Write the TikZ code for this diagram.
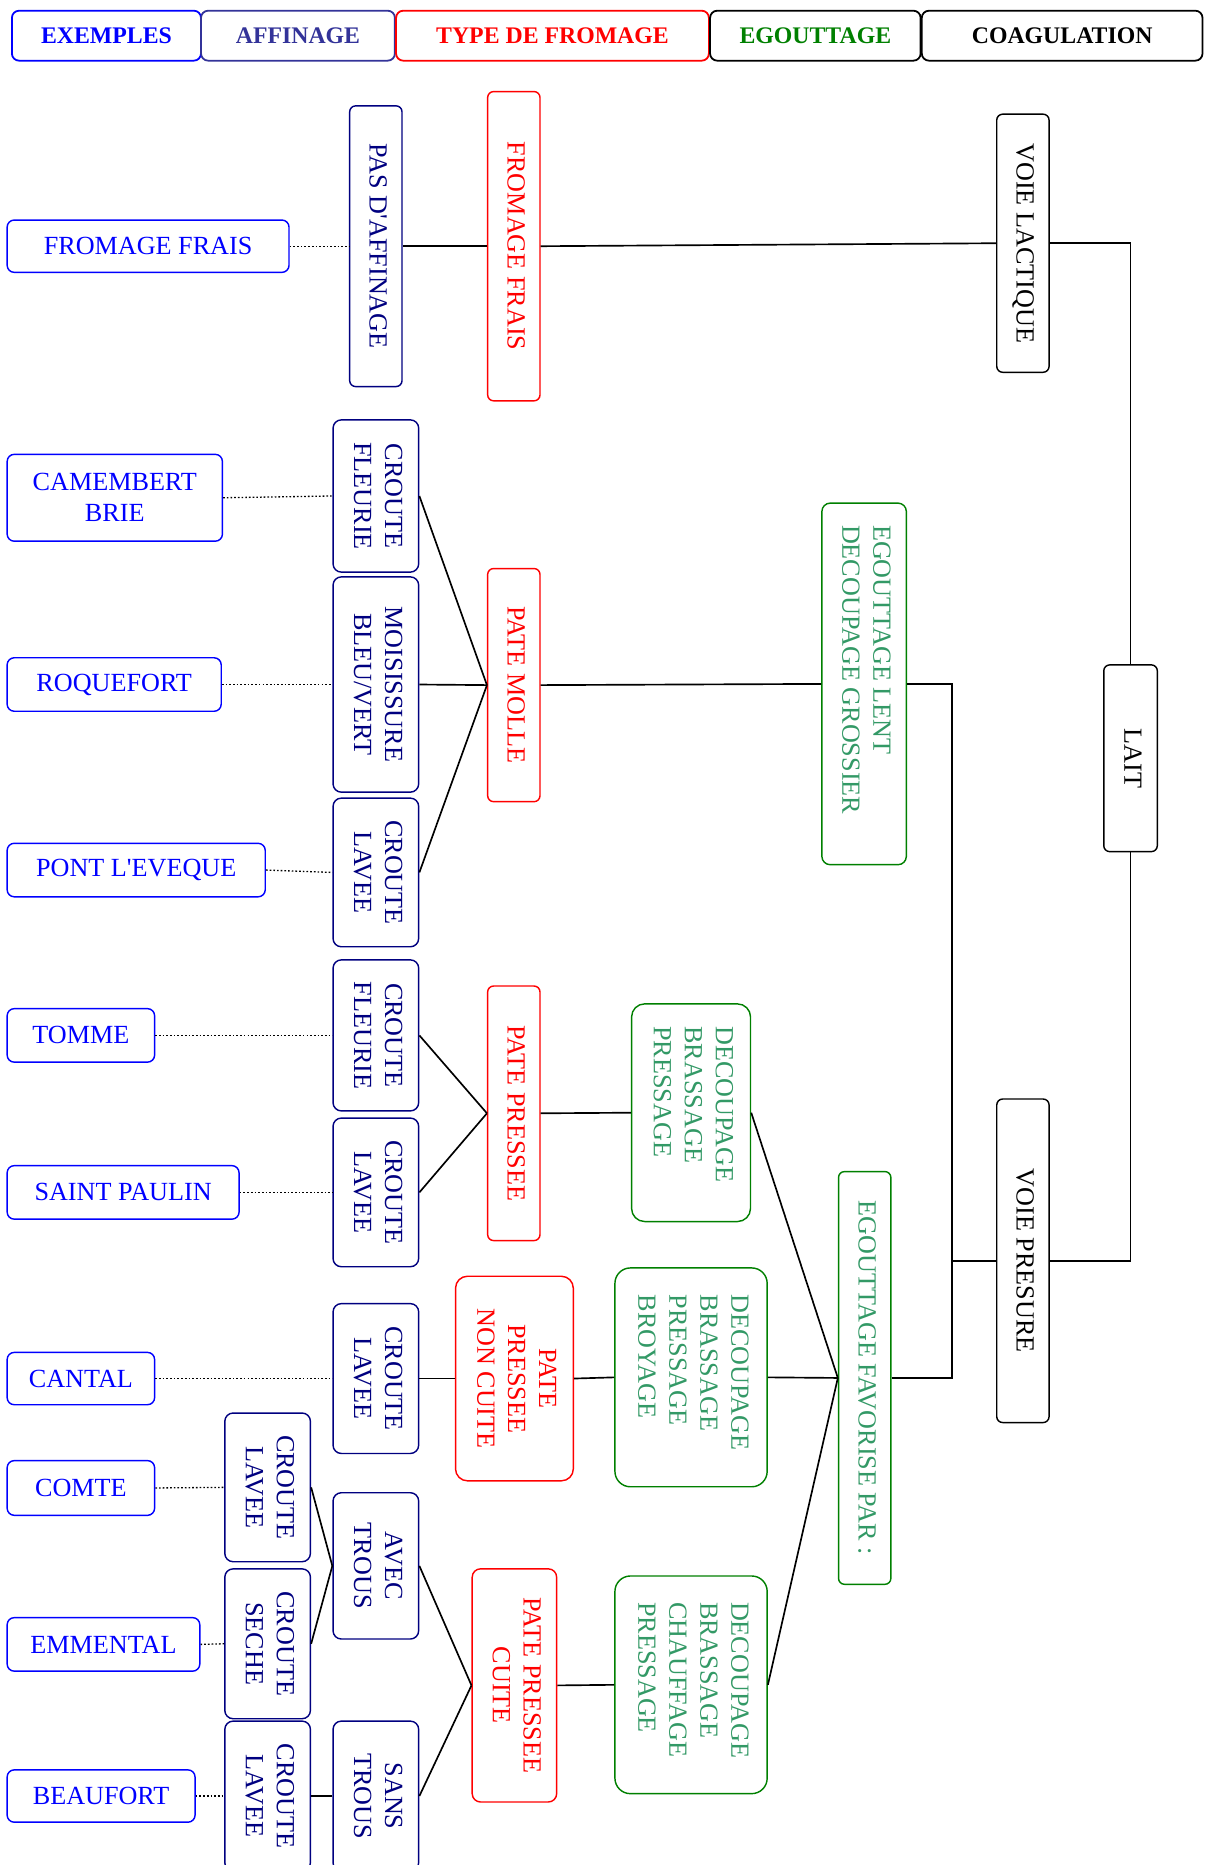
\documentclass[tikz,border=0pt]{standalone}
\usepackage{fontspec}
\setmainfont{Liberation Serif}
\definecolor{exblue}{RGB}{0,0,255}
\definecolor{navy}{RGB}{0,0,128}
\definecolor{hdrnavy}{RGB}{51,51,153}
\definecolor{egborder}{RGB}{0,128,0}
\definecolor{egtext}{RGB}{51,153,102}
\newcommand{\rottext}[1]{\rotatebox{-90}{\begin{tabular}{@{}c@{}}#1\end{tabular}}}
\newcommand{\rotleft}[2]{\rotatebox{-90}{\begin{tabular}{@{}l@{\hspace{#1}}}#2\end{tabular}}}
\tikzset{
  box/.style={draw, rounded corners=5pt, line width=1.2pt, inner sep=0pt, fill=white,
    font=\fontsize{22}{26}\selectfont},
  exbox/.style={box, draw=exblue, text=exblue, rounded corners=6pt, align=center},
  afbox/.style={box, draw=navy, text=navy, rounded corners=7pt},
  tybox/.style={box, draw=red, text=red},
  egbox/.style={box, draw=egborder, text=egtext},
  cobox/.style={box, draw=black, text=black},
  hdr/.style={draw, rounded corners=6pt, line width=1.5pt, minimum height=42pt, inner sep=0pt,
    font=\fontsize{20}{24}\selectfont\bfseries},
  link/.style={line width=1.4pt},
  dots/.style={line width=1.1pt, dash pattern=on 1.4pt off 1.7pt},
}
\begin{document}
\begin{tikzpicture}[x={(1pt,0)}, y={(0,-1pt)}]
\path[use as bounding box, fill=white] (0,0) rectangle (1021,1568);

% headers
\node[hdr, draw=exblue, text=exblue, minimum width=159pt] (hEX) at (89.5,30) {EXEMPLES};
\node[hdr, draw=hdrnavy, text=hdrnavy, minimum width=163pt] (hAF) at (250.5,30) {AFFINAGE};
\node[hdr, draw=red, text=red, minimum width=263pt] (hTY) at (464.5,30) {TYPE DE FROMAGE};
\node[hdr, draw=black, text=egborder, minimum width=177pt] (hEG) at (685.5,30) {EGOUTTAGE};
\node[hdr, draw=black, text=black, minimum width=236pt] (hCO) at (893,30) {COAGULATION};

% examples
\node[exbox, minimum width=237pt, minimum height=44pt] (exFF) at (124.5,207) {FROMAGE FRAIS};
\node[exbox, minimum width=181pt, minimum height=73pt] (exCB) at (96.5,418.5) {CAMEMBERT\\BRIE};
\node[exbox, minimum width=180pt, minimum height=45pt] (exRQ) at (96,575.5) {ROQUEFORT};
\node[exbox, minimum width=217pt, minimum height=45pt] (exPL) at (114.5,731.5) {PONT L\textquotesingle EVEQUE};
\node[exbox, minimum width=124pt, minimum height=45pt] (exTO) at (68,870.5) {TOMME};
\node[exbox, minimum width=195pt, minimum height=45pt] (exSP) at (103.5,1002.5) {SAINT PAULIN};
\node[exbox, minimum width=124pt, minimum height=44pt] (exCA) at (68,1159) {CANTAL};
\node[exbox, minimum width=124pt, minimum height=46pt] (exCO) at (68,1251) {COMTE};
\node[exbox, minimum width=162pt, minimum height=45pt] (exEM) at (87,1382.5) {EMMENTAL};
\node[exbox, minimum width=158pt, minimum height=44pt] (exBE) at (85,1510) {BEAUFORT};

% affinage
\node[afbox, rounded corners=5pt, minimum width=44pt, minimum height=236pt] (afPA) at (316,207) {\rottext{PAS D\textquotesingle AFFINAGE}};
\node[afbox, minimum width=72pt, minimum height=128pt] (afCF1) at (316,417) {\rottext{CROUTE\\FLEURIE}};
\node[afbox, minimum width=72pt, minimum height=181pt] (afMO) at (316,575.5) {\rottext{MOISISSURE\\BLEU/VERT}};
\node[afbox, minimum width=72pt, minimum height=125pt] (afCL1) at (316,733.5) {\rottext{CROUTE\\LAVEE}};
\node[afbox, minimum width=72pt, minimum height=127pt] (afCF2) at (316,870.5) {\rottext{CROUTE\\FLEURIE}};
\node[afbox, minimum width=72pt, minimum height=125pt] (afCL2) at (316,1002.5) {\rottext{CROUTE\\LAVEE}};
\node[afbox, minimum width=72pt, minimum height=126pt] (afCL3) at (316,1159) {\rottext{CROUTE\\LAVEE}};
\node[afbox, minimum width=72pt, minimum height=125pt] (afCL4) at (225,1250.5) {\rottext{CROUTE\\LAVEE}};
\node[afbox, minimum width=72pt, minimum height=123pt] (afAT) at (316,1316.5) {\rottext{AVEC\\TROUS}};
\node[afbox, minimum width=72pt, minimum height=126pt] (afCS) at (225,1382) {\rottext{CROUTE\\SECHE}};
\node[afbox, minimum width=72pt, minimum height=126pt] (afCL5) at (225,1510) {\rottext{CROUTE\\LAVEE}};
\node[afbox, minimum width=72pt, minimum height=126pt] (afST) at (316,1510) {\rottext{SANS\\TROUS}};

% type de fromage
\node[tybox, minimum width=44pt, minimum height=260pt] (tyFF) at (432,207) {\rottext{FROMAGE FRAIS}};
\node[tybox, minimum width=44pt, minimum height=196pt] (tyPM) at (432,576) {\rottext{PATE MOLLE}};
\node[tybox, minimum width=44pt, minimum height=214pt] (tyPP) at (432,936) {\rottext{PATE PRESSEE}};
\node[tybox, rounded corners=10pt, minimum width=99pt, minimum height=172pt] (tyPN) at (432.5,1159) {\rottext{PATE\\PRESSEE\\NON CUITE}};
\node[tybox, rounded corners=7pt, minimum width=71pt, minimum height=196pt] (tyPC) at (432.5,1417) {\rottext{PATE PRESSEE\\CUITE}};

% egouttage
\node[egbox, rounded corners=11pt, minimum width=100pt, minimum height=183pt] (egDBP) at (581,935.5) {\rotleft{14pt}{DECOUPAGE\\BRASSAGE\\PRESSAGE}};
\node[egbox, rounded corners=13pt, minimum width=128pt, minimum height=184pt] (egDBPB) at (581,1158) {\rotleft{8pt}{DECOUPAGE\\BRASSAGE\\PRESSAGE\\BROYAGE}};
\node[egbox, rounded corners=13pt, minimum width=128pt, minimum height=183pt] (egDBCP) at (581,1416.5) {\rotleft{8pt}{DECOUPAGE\\BRASSAGE\\CHAUFFAGE\\PRESSAGE}};
\node[egbox, rounded corners=7pt, minimum width=71pt, minimum height=304pt] (egEL) at (726.5,575) {\rotleft{24pt}{EGOUTTAGE LENT\\DECOUPAGE GROSSIER}};
\node[egbox, minimum width=44pt, minimum height=347pt] (egEF) at (727,1158.5) {\rottext{EGOUTTAGE FAVORISE PAR :}};

% coagulation
\node[cobox, minimum width=44pt, minimum height=217pt] (coVL) at (860,204.5) {\rottext{VOIE LACTIQUE}};
\node[cobox, minimum width=45pt, minimum height=157pt] (coLA) at (950.5,637.5) {\rottext{LAIT}};
\node[cobox, minimum width=44pt, minimum height=272pt] (coVP) at (860,1060) {\rottext{VOIE PRESURE}};

% coagulation links
\draw[link] (coVL.east) -| (coLA.north);
\draw[link] (coLA.south) |- (coVP.east);
\coordinate (jP) at (800.5,1060);
\draw[link] (coVP.west) -- (jP) |- (egEL.east);
\draw[link] (jP) |- (egEF.east);
\draw[link] (tyFF.east) -- (coVL.west);

% egouttage to type
\draw[link] (egEL.west) -- (tyPM.east);
\draw[link] (egEF.west) -- (egDBP.east);
\draw[link] (egEF.west) -- (egDBPB.east);
\draw[link] (egEF.west) -- (egDBCP.east);
\draw[link] (egDBP.west) -- (tyPP.east);
\draw[link] (egDBPB.west) -- (tyPN.east);
\draw[link] (egDBCP.west) -- (tyPC.east);

% type to affinage
\draw[link] (tyFF.west) -- (afPA.east);
\draw[link] (tyPM.west) -- (afCF1.east);
\draw[link] (tyPM.west) -- (afMO.east);
\draw[link] (tyPM.west) -- (afCL1.east);
\draw[link] (tyPP.west) -- (afCF2.east);
\draw[link] (tyPP.west) -- (afCL2.east);
\draw[link] (tyPN.west) -- (afCL3.east);
\draw[link] (tyPC.west) -- (afAT.east);
\draw[link] (tyPC.west) -- (afST.east);
\draw[link] (afAT.west) -- (afCL4.east);
\draw[link] (afAT.west) -- (afCS.east);
\draw[link] (afST.west) -- (afCL5.east);

% examples to affinage (dotted)
\draw[dots] (exFF.east) -- (afPA.west);
\draw[dots] (exCB.east) -- (afCF1.west);
\draw[dots] (exRQ.east) -- (afMO.west);
\draw[dots] (exPL.east) -- (afCL1.west);
\draw[dots] (exTO.east) -- (afCF2.west);
\draw[dots] (exSP.east) -- (afCL2.west);
\draw[dots] (exCA.east) -- (afCL3.west);
\draw[dots] (exCO.east) -- (afCL4.west);
\draw[dots] (exEM.east) -- (afCS.west);
\draw[dots] (exBE.east) -- (afCL5.west);
\end{tikzpicture}
\end{document}
